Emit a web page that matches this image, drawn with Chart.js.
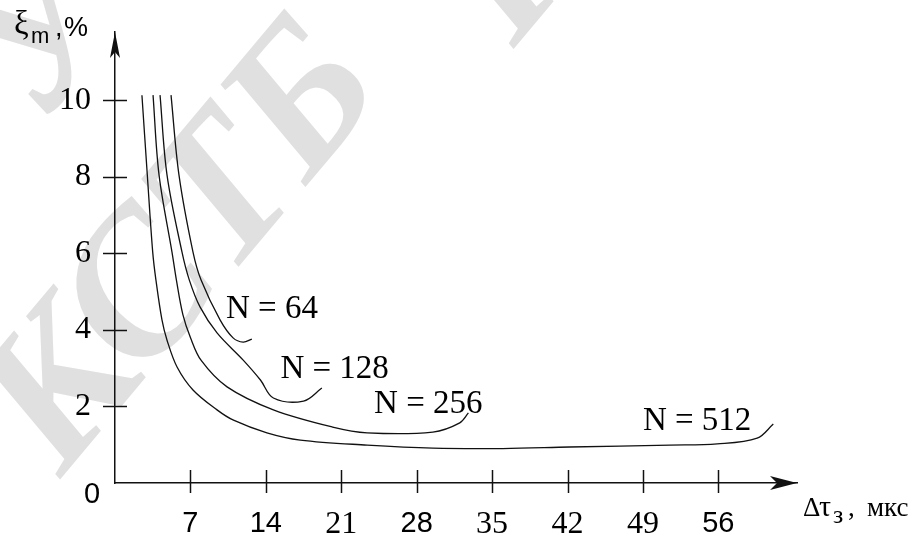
<!DOCTYPE html>
<html>
<head>
<meta charset="utf-8">
<script src="https://cdn.jsdelivr.net/npm/chart.js@4.4.1/dist/chart.umd.min.js"></script>
<style>
html,body{margin:0;padding:0;background:#fff;}
#wrap{width:920px;height:538px;}
</style>
</head>
<body>
<div id="wrap"><canvas id="c" width="920" height="538"></canvas></div>
<script>
// ---- data ----
const xTicks = [7, 14, 21, 28, 35, 42, 49, 56];
const yTicks = [2, 4, 6, 8, 10];
const seriesNames = ['N = 512', 'N = 256', 'N = 128', 'N = 64'];

const n512X = [2.5, 3.0, 3.5, 3.8, 4.36, 4.83, 5.76, 7.24, 9.47, 11.0, 14.1, 17.2, 23.4, 29.5, 36.0, 42.2, 51.5, 55.9, 59.6, 61.1];
const n512Y = [10.13, 8.04, 6.03, 5.3, 4.26, 3.73, 3.03, 2.43, 1.91, 1.64, 1.31, 1.12, 0.99, 0.91, 0.9, 0.94, 0.99, 1.02, 1.17, 1.54];

const n256X = [3.53, 4.09, 5.29, 5.7, 6.3, 7.0, 8.0, 10.4, 14.7, 20.2, 23.4, 29.5, 32.0, 32.8];
const n256Y = [10.13, 8.04, 6.03, 5.3, 4.4, 3.8, 3.2, 2.51, 1.91, 1.46, 1.31, 1.33, 1.57, 1.83];

const n128X = [4.18, 4.83, 6.22, 6.9, 7.89, 9.47, 11.9, 13.5, 14.7, 17.5, 19.2];
const n128Y = [10.13, 8.04, 6.03, 5.3, 4.6, 3.92, 3.21, 2.69, 2.22, 2.14, 2.48];

const n64X = [5.2, 5.94, 7.24, 7.99, 9.75, 10.96, 11.9, 12.7];
const n64Y = [10.13, 8.04, 6.03, 5.3, 4.26, 3.79, 3.68, 3.76];

// ---- build ----
function pts(xs, ys) { return xs.map((x, i) => ({ x: x, y: ys[i] })); }
const allX = [n512X, n256X, n128X, n64X];
const allY = [n512Y, n256Y, n128Y, n64Y];

// label anchors (data units) for the curve captions
const captionAnchors = [
  { x: 49.0, y: 1.38 },
  { x: 24.05, y: 1.83 },
  { x: 15.35, y: 2.74 },
  { x: 10.3, y: 4.31 }
];

const SERIF = '"Liberation Serif", "Times New Roman", serif';
const SANS = '"Liberation Sans", Arial, sans-serif';
const sansTickValues = new Set([7, 14, 28, 56]);

function wm(ctx, text, cx, cy) {
  ctx.save();
  ctx.fillStyle = '#e0e0e0';
  ctx.font = 'italic bold 200px ' + SERIF;
  ctx.textAlign = 'center';
  ctx.textBaseline = 'middle';
  ctx.translate(cx, cy);
  ctx.rotate(-50 * Math.PI / 180);
  ctx.fillText(text, 0, 0);
  ctx.restore();
}

const decorPlugin = {
  id: 'decor',
  beforeDraw(chart) {
    const ctx = chart.ctx;
    wm(ctx, 'КСТБ', 185, 250);
    wm(ctx, 'У', 45, 40);
    wm(ctx, 'Н', 525, -45);
  },
  afterDraw(chart) {
    const ctx = chart.ctx;
    const xs = chart.scales.x, ys = chart.scales.y;
    const x0 = xs.getPixelForValue(0), y0 = ys.getPixelForValue(0);
    const xEnd = xs.getPixelForValue(xs.max), yEnd = ys.getPixelForValue(ys.max);
    ctx.save();
    ctx.strokeStyle = '#111';
    ctx.fillStyle = '#111';
    ctx.lineWidth = 1.5;
    // crossing tick marks
    xTicks.forEach(v => {
      const px = Math.round(xs.getPixelForValue(v)) + 0.5;
      ctx.beginPath();
      ctx.moveTo(px, y0 - 13);
      ctx.lineTo(px, y0 + 10);
      ctx.stroke();
    });
    yTicks.forEach(v => {
      const py = Math.round(ys.getPixelForValue(v)) + 0.5;
      ctx.beginPath();
      ctx.moveTo(x0 - 12, py);
      ctx.lineTo(x0 + 12, py);
      ctx.stroke();
    });
    // arrow heads
    ctx.beginPath();
    ctx.moveTo(xEnd, y0);
    ctx.lineTo(xEnd - 27, y0 - 7);
    ctx.lineTo(xEnd - 20, y0);
    ctx.lineTo(xEnd - 27, y0 + 7);
    ctx.closePath();
    ctx.fill();
    ctx.beginPath();
    ctx.moveTo(x0, yEnd);
    ctx.lineTo(x0 - 5, yEnd + 26);
    ctx.lineTo(x0, yEnd + 20);
    ctx.lineTo(x0 + 5, yEnd + 26);
    ctx.closePath();
    ctx.fill();
    // origin label
    ctx.fillStyle = '#000';
    ctx.font = '29px ' + SANS;
    ctx.textAlign = 'center';
    ctx.textBaseline = 'middle';
    ctx.fillText('0', x0 - 23, y0 + 12);
    // curve captions
    ctx.font = '33px ' + SERIF;
    ctx.textAlign = 'left';
    ctx.textBaseline = 'alphabetic';
    seriesNames.forEach((name, i) => {
      const a = captionAnchors[i];
      ctx.fillText(name, xs.getPixelForValue(a.x), ys.getPixelForValue(a.y));
    });
    // y axis title: ξm ,%
    ctx.font = '33px ' + SERIF;
    ctx.fillText('ξ', 14, 34);
    ctx.font = '22px ' + SANS;
    ctx.fillText('m', 31, 43);
    ctx.font = '27px ' + SANS;
    ctx.fillText(',', 55, 36);
    ctx.fillText('%', 64, 36);
    // x axis title: Δτз, мкс
    ctx.font = '27px ' + SERIF;
    ctx.fillText('Δ', 803, 516);
    ctx.font = '30px ' + SERIF;
    ctx.fillText('τ', 819, 516);
    ctx.font = '26px ' + SERIF;
    ctx.fillText('з', 833, 523);
    ctx.font = '27px ' + SERIF;
    ctx.fillText(',', 848, 516);
    ctx.fillText('мкс', 867, 516);
    ctx.restore();
  }
};

const datasets = allX.map((xs, i) => ({
  label: seriesNames[i],
  data: pts(xs, allY[i]),
  borderColor: '#111',
  borderWidth: 1.3,
  pointRadius: 0,
  fill: false,
  cubicInterpolationMode: 'default',
  tension: 0.35
}));

new Chart(document.getElementById('c'), {
  type: 'line',
  data: { datasets: datasets },
  options: {
    responsive: false,
    animation: false,
    devicePixelRatio: 1,
    layout: { padding: { top: 32, right: 123, left: 0, bottom: 0 } },
    plugins: { legend: { display: false }, tooltip: { enabled: false }, title: { display: false } },
    scales: {
      x: {
        type: 'linear',
        position: 'bottom',
        min: 0,
        max: 63.3,
        grid: { display: false, drawTicks: false },
        border: { display: true, color: '#111', width: 1.5 },
        afterBuildTicks: s => { s.ticks = xTicks.map(v => ({ value: v })); },
        afterFit: s => { s.height = 55; s.paddingLeft = 0; s.paddingRight = 0; },
        ticks: {
          color: '#000',
          padding: 22,
          maxRotation: 0,
          autoSkip: false,
          callback: v => String(v),
          font: c => (sansTickValues.has(c.tick && c.tick.value)
            ? { family: SANS, size: 29, lineHeight: 38.4 / 29 }
            : { family: SERIF, size: 32, lineHeight: 1.2 })
        }
      },
      y: {
        type: 'linear',
        min: 0,
        max: 11.78,
        grid: { display: false, drawTicks: false },
        border: { display: true, color: '#111', width: 1.5 },
        afterBuildTicks: s => { s.ticks = yTicks.map(v => ({ value: v })); },
        afterFit: s => { s.width = 115; s.paddingTop = 0; s.paddingBottom = 0; },
        ticks: {
          color: '#000',
          padding: 24,
          autoSkip: false,
          callback: v => String(v),
          font: { family: SERIF, size: 32 }
        }
      }
    }
  },
  plugins: [decorPlugin]
});
</script>
</body>
</html>
